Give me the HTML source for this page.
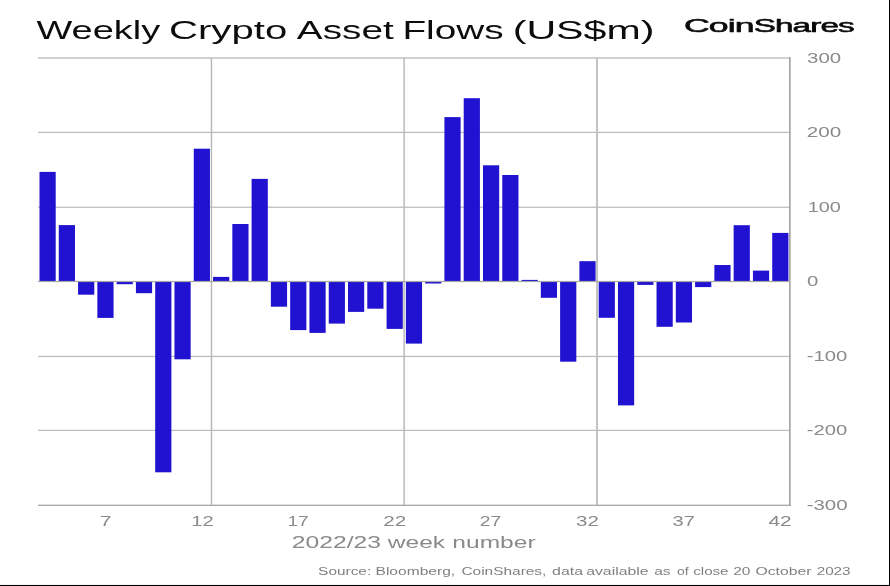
<!DOCTYPE html>
<html><head><meta charset="utf-8"><title>Weekly Crypto Asset Flows</title>
<style>
html,body{margin:0;padding:0;background:#fff;}
body{width:890px;height:586px;position:relative;overflow:hidden;font-family:"Liberation Sans",sans-serif;}
</style></head><body>
<svg width="890" height="586" viewBox="0 0 890 586" style="position:absolute;left:0;top:0;display:block;will-change:transform">
<rect x="38.0" y="57.20" width="752.0" height="1.6" fill="#c6c6c6"/>
<rect x="38.0" y="131.78" width="752.0" height="1.25" fill="#bcbcbc"/>
<rect x="38.0" y="206.62" width="752.0" height="1.25" fill="#bcbcbc"/>
<rect x="38.0" y="355.82" width="752.0" height="1.25" fill="#bcbcbc"/>
<rect x="38.0" y="429.77" width="752.0" height="1.25" fill="#bcbcbc"/>
<rect x="210.75" y="58" width="1.4" height="447" fill="#b6b6b6"/>
<rect x="403.40" y="58" width="1.4" height="447" fill="#b6b6b6"/>
<rect x="596.05" y="58" width="1.9" height="447" fill="#c0c0c0"/>
<rect x="39.50" y="171.90" width="16.2" height="109.60" fill="#2012d0"/>
<rect x="58.78" y="225.10" width="16.2" height="56.40" fill="#2012d0"/>
<rect x="78.06" y="281.50" width="16.2" height="13.20" fill="#2012d0"/>
<rect x="97.35" y="281.50" width="16.2" height="36.40" fill="#2012d0"/>
<rect x="116.63" y="281.50" width="16.2" height="2.70" fill="#2012d0"/>
<rect x="135.91" y="281.50" width="16.2" height="11.70" fill="#2012d0"/>
<rect x="155.19" y="281.50" width="16.2" height="190.80" fill="#2012d0"/>
<rect x="174.47" y="281.50" width="16.2" height="77.80" fill="#2012d0"/>
<rect x="193.76" y="148.70" width="16.2" height="132.80" fill="#2012d0"/>
<rect x="213.04" y="276.90" width="16.2" height="4.60" fill="#2012d0"/>
<rect x="232.32" y="224.00" width="16.2" height="57.50" fill="#2012d0"/>
<rect x="251.60" y="178.90" width="16.2" height="102.60" fill="#2012d0"/>
<rect x="270.88" y="281.50" width="16.2" height="25.20" fill="#2012d0"/>
<rect x="290.17" y="281.50" width="16.2" height="48.60" fill="#2012d0"/>
<rect x="309.45" y="281.50" width="16.2" height="51.40" fill="#2012d0"/>
<rect x="328.73" y="281.50" width="16.2" height="42.10" fill="#2012d0"/>
<rect x="348.01" y="281.50" width="16.2" height="30.40" fill="#2012d0"/>
<rect x="367.29" y="281.50" width="16.2" height="27.20" fill="#2012d0"/>
<rect x="386.58" y="281.50" width="16.2" height="47.40" fill="#2012d0"/>
<rect x="405.86" y="281.50" width="16.2" height="62.10" fill="#2012d0"/>
<rect x="425.14" y="281.50" width="16.2" height="2.00" fill="#2012d0"/>
<rect x="444.42" y="117.10" width="16.2" height="164.40" fill="#2012d0"/>
<rect x="463.71" y="98.20" width="16.2" height="183.30" fill="#2012d0"/>
<rect x="482.99" y="165.30" width="16.2" height="116.20" fill="#2012d0"/>
<rect x="502.27" y="175.00" width="16.2" height="106.50" fill="#2012d0"/>
<rect x="521.55" y="279.90" width="16.2" height="1.60" fill="#2012d0"/>
<rect x="540.83" y="281.50" width="16.2" height="16.30" fill="#2012d0"/>
<rect x="560.12" y="281.50" width="16.2" height="80.20" fill="#2012d0"/>
<rect x="579.40" y="261.20" width="16.2" height="20.30" fill="#2012d0"/>
<rect x="598.68" y="281.50" width="16.2" height="36.30" fill="#2012d0"/>
<rect x="617.96" y="281.50" width="16.2" height="123.90" fill="#2012d0"/>
<rect x="637.24" y="281.50" width="16.2" height="3.40" fill="#2012d0"/>
<rect x="656.53" y="281.50" width="16.2" height="45.30" fill="#2012d0"/>
<rect x="675.81" y="281.50" width="16.2" height="41.00" fill="#2012d0"/>
<rect x="695.09" y="281.50" width="16.2" height="5.60" fill="#2012d0"/>
<rect x="714.37" y="265.00" width="16.2" height="16.50" fill="#2012d0"/>
<rect x="733.65" y="225.20" width="16.2" height="56.30" fill="#2012d0"/>
<rect x="752.94" y="270.60" width="16.2" height="10.90" fill="#2012d0"/>
<rect x="772.22" y="232.90" width="16.2" height="48.60" fill="#2012d0"/>
<rect x="38.0" y="280.90" width="752.0" height="1.2" fill="#a6a6a6"/>
<rect x="38.0" y="504.65" width="752.8" height="1.3" fill="#a6a6a6"/>
<rect x="789.0" y="57.2" width="1.7" height="448.8" fill="#a6a6a6"/>
<text transform="translate(36.42 38.90) scale(1.4712 1)" font-family="Liberation Sans, sans-serif" font-size="25.8" font-weight="normal" fill="#0c0c0c" >Weekly</text>
<text transform="translate(168.96 38.90) scale(1.5565 1)" font-family="Liberation Sans, sans-serif" font-size="25.8" font-weight="normal" fill="#0c0c0c" >Crypto</text>
<text transform="translate(296.81 38.90) scale(1.5019 1)" font-family="Liberation Sans, sans-serif" font-size="25.8" font-weight="normal" fill="#0c0c0c" >Asset</text>
<text transform="translate(402.41 38.90) scale(1.5035 1)" font-family="Liberation Sans, sans-serif" font-size="25.8" font-weight="normal" fill="#0c0c0c" >Flows</text>
<text transform="translate(512.71 38.90) scale(1.5942 1)" font-family="Liberation Sans, sans-serif" font-size="25.8" font-weight="normal" fill="#0c0c0c" >(US$m)</text>
<text transform="translate(807.07 62.75) scale(1.4689 1)" font-family="Liberation Sans, sans-serif" font-size="13.9" font-weight="normal" fill="#8a8a8a" >300</text>
<text transform="translate(806.69 137.15) scale(1.4857 1)" font-family="Liberation Sans, sans-serif" font-size="13.9" font-weight="normal" fill="#8a8a8a" >200</text>
<text transform="translate(807.67 211.75) scale(1.4289 1)" font-family="Liberation Sans, sans-serif" font-size="13.9" font-weight="normal" fill="#8a8a8a" >100</text>
<text transform="translate(807.07 286.15) scale(1.4642 1)" font-family="Liberation Sans, sans-serif" font-size="13.9" font-weight="normal" fill="#8a8a8a" >0</text>
<text transform="translate(806.69 360.85) scale(1.4573 1)" font-family="Liberation Sans, sans-serif" font-size="13.9" font-weight="normal" fill="#8a8a8a" >-100</text>
<text transform="translate(806.69 435.15) scale(1.4573 1)" font-family="Liberation Sans, sans-serif" font-size="13.9" font-weight="normal" fill="#8a8a8a" >-200</text>
<text transform="translate(806.68 509.85) scale(1.4723 1)" font-family="Liberation Sans, sans-serif" font-size="13.9" font-weight="normal" fill="#8a8a8a" >-300</text>
<text transform="translate(99.65 525.60) scale(1.5360 1)" font-family="Liberation Sans, sans-serif" font-size="13.9" font-weight="normal" fill="#8a8a8a" >7</text>
<text transform="translate(191.15 525.60) scale(1.4545 1)" font-family="Liberation Sans, sans-serif" font-size="13.9" font-weight="normal" fill="#8a8a8a" >12</text>
<text transform="translate(287.43 525.60) scale(1.3745 1)" font-family="Liberation Sans, sans-serif" font-size="13.9" font-weight="normal" fill="#8a8a8a" >17</text>
<text transform="translate(383.29 525.60) scale(1.4857 1)" font-family="Liberation Sans, sans-serif" font-size="13.9" font-weight="normal" fill="#8a8a8a" >22</text>
<text transform="translate(479.66 525.60) scale(1.3929 1)" font-family="Liberation Sans, sans-serif" font-size="13.9" font-weight="normal" fill="#8a8a8a" >27</text>
<text transform="translate(575.96 525.60) scale(1.4807 1)" font-family="Liberation Sans, sans-serif" font-size="13.9" font-weight="normal" fill="#8a8a8a" >32</text>
<text transform="translate(672.58 525.60) scale(1.4386 1)" font-family="Liberation Sans, sans-serif" font-size="13.9" font-weight="normal" fill="#8a8a8a" >37</text>
<text transform="translate(768.44 525.60) scale(1.5026 1)" font-family="Liberation Sans, sans-serif" font-size="13.9" font-weight="normal" fill="#8a8a8a" >42</text>
<text transform="translate(291.72 547.90) scale(1.5747 1)" font-family="Liberation Sans, sans-serif" font-size="15.7" font-weight="normal" fill="#8a8a8a" >2022/23</text>
<text transform="translate(387.80 547.90) scale(1.5645 1)" font-family="Liberation Sans, sans-serif" font-size="15.7" font-weight="normal" fill="#8a8a8a" >week</text>
<text transform="translate(452.33 547.90) scale(1.5653 1)" font-family="Liberation Sans, sans-serif" font-size="15.7" font-weight="normal" fill="#8a8a8a" >number</text>
<text transform="translate(318.12 575.40) scale(1.3645 1)" font-family="Liberation Sans, sans-serif" font-size="11.3" font-weight="normal" fill="#808080" >Source:</text>
<text transform="translate(375.49 575.40) scale(1.3799 1)" font-family="Liberation Sans, sans-serif" font-size="11.3" font-weight="normal" fill="#808080" >Bloomberg,</text>
<text transform="translate(461.45 575.40) scale(1.3669 1)" font-family="Liberation Sans, sans-serif" font-size="11.3" font-weight="normal" fill="#808080" >CoinShares,</text>
<text transform="translate(552.10 575.40) scale(1.4047 1)" font-family="Liberation Sans, sans-serif" font-size="11.3" font-weight="normal" fill="#808080" >data</text>
<text transform="translate(586.20 575.40) scale(1.3983 1)" font-family="Liberation Sans, sans-serif" font-size="11.3" font-weight="normal" fill="#808080" >available</text>
<text transform="translate(654.21 575.40) scale(1.3727 1)" font-family="Liberation Sans, sans-serif" font-size="11.3" font-weight="normal" fill="#808080" >as</text>
<text transform="translate(676.88 575.40) scale(1.2394 1)" font-family="Liberation Sans, sans-serif" font-size="11.3" font-weight="normal" fill="#808080" >of</text>
<text transform="translate(693.23 575.40) scale(1.3360 1)" font-family="Liberation Sans, sans-serif" font-size="11.3" font-weight="normal" fill="#808080" >close</text>
<text transform="translate(733.24 575.40) scale(1.3739 1)" font-family="Liberation Sans, sans-serif" font-size="11.3" font-weight="normal" fill="#808080" >20</text>
<text transform="translate(755.50 575.40) scale(1.3924 1)" font-family="Liberation Sans, sans-serif" font-size="11.3" font-weight="normal" fill="#808080" >October</text>
<text transform="translate(816.66 575.40) scale(1.3500 1)" font-family="Liberation Sans, sans-serif" font-size="11.3" font-weight="normal" fill="#808080" >2023</text>
<text transform="translate(684.06 31.95) scale(1.8976 1)" font-family="Liberation Sans, sans-serif" font-size="18.8" letter-spacing="-0.5" fill="#0a0a0a" stroke="#0a0a0a" stroke-width="0.85" vector-effect="non-scaling-stroke" stroke-linejoin="round">Coin</text>
<text transform="translate(753.76 31.95) scale(1.7672 1)" font-family="Liberation Sans, sans-serif" font-size="18.8" letter-spacing="-0.5" fill="#0a0a0a" stroke="#0a0a0a" stroke-width="0.85" vector-effect="non-scaling-stroke" stroke-linejoin="round">Shares</text>
<rect x="0" y="584.95" width="890" height="1.05" fill="#000"/>
<rect x="889" y="0" width="1" height="586" fill="#000"/>
</svg>
</body></html>
